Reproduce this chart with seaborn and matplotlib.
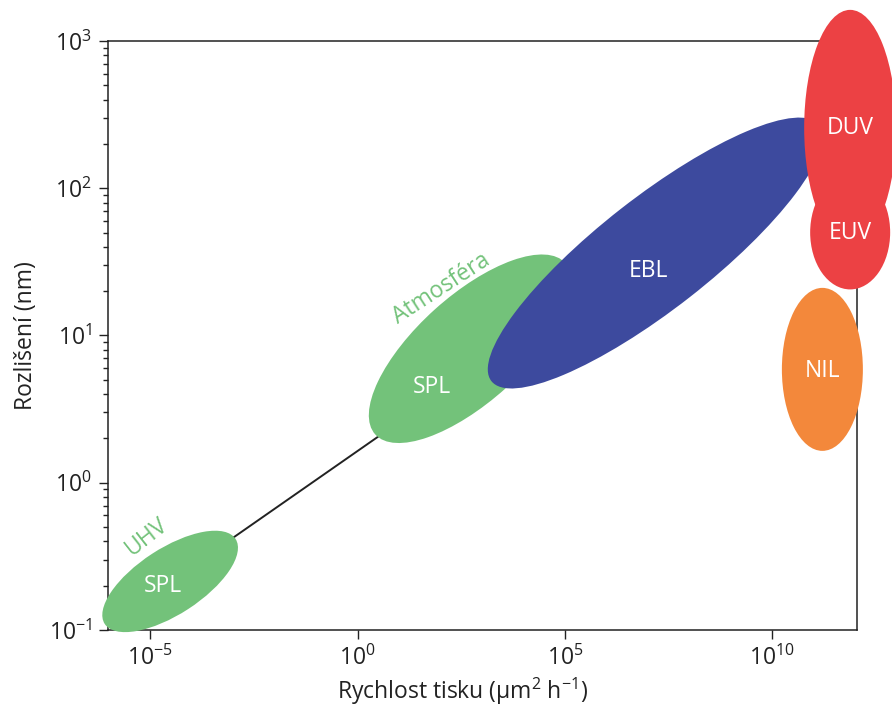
import numpy as np
import pandas as pd
import matplotlib
matplotlib.use("Agg")
import matplotlib.pyplot as plt
import matplotlib.transforms as mtransforms
from matplotlib.patches import Ellipse
from matplotlib.ticker import LogLocator, NullLocator, FixedLocator
import seaborn as sns

# regions: method name, centre as log10 speed (um^2/h) and log10 resolution (nm)
methods = ["SPL", "SPL", "EBL", "DUV", "EUV", "NIL"]
speed_log = [-4.52, 2.72, 7.18, 11.88, 11.88, 11.21]
res_log = [-0.67, 0.91, 1.56, 2.41, 1.70, 0.77]

# environment tags of the two SPL regions
env_labels = ["UHV", "Atmosféra"]

# line joining the two SPL regions
link_speed_log = [-3.8, 1.5]
link_res_log = [-0.53, 0.51]

#---------- styling ----------
green = "#73c27a"
blue = "#3d4a9e"
red = "#ec4144"
orange = "#f3883b"
colors = [green, green, blue, red, red, orange]
# ellipse size in pixels (width, height) and tilt
ell_w = [156, 256, 416, 92, 80, 81]
ell_h = [66, 106, 112, 236, 114, 163]
ell_ang = [33, 42, 38, 0, 0, 0]
ell_z = [3, 3, 4, 5, 5, 5]
lab_off = [(-7, -5), (-38, -38), (-7, -18), (0, 0), (0, -1), (0, -2)]
env_off = [(-23, 45), (-29, 60)]
env_rot = [38, 33]

sns.set_theme(style="ticks")
plt.rcParams['font.family'] = ['Open Sans', 'DejaVu Sans']
plt.rcParams['mathtext.fontset'] = 'custom'
plt.rcParams['mathtext.rm'] = 'Open Sans'
plt.rcParams['mathtext.it'] = 'Open Sans:italic'
plt.rcParams['mathtext.bf'] = 'Open Sans:bold'

fig = plt.figure(figsize=(8.92, 7.09), dpi=100)
ax = fig.add_axes([0.121, 0.1114, 0.840, 0.8308])

link = pd.DataFrame({"speed": 10.0 ** np.array(link_speed_log),
                     "res": 10.0 ** np.array(link_res_log)})
sns.lineplot(data=link, x="speed", y="res", ax=ax, color="#222222", lw=1.4, zorder=2)

ax.set_xscale("log")
ax.set_yscale("log")
ax.set_xlim(10 ** -6.02, 10 ** 12.05)
ax.set_ylim(1e-1, 1e3)

for i in range(len(methods)):
    cx = 10 ** speed_log[i]
    cy = 10 ** res_log[i]
    tr = fig.dpi_scale_trans + mtransforms.ScaledTranslation(cx, cy, ax.transData)
    e = Ellipse((0, 0), ell_w[i] / 100, ell_h[i] / 100, angle=ell_ang[i],
                transform=tr, facecolor=colors[i], edgecolor="none",
                clip_on=False, zorder=ell_z[i])
    ax.add_patch(e)
    ax.annotate(methods[i], (cx, cy), xytext=lab_off[i], textcoords="offset pixels",
                ha="center", va="center", color="white", fontsize=16.5,
                zorder=10, annotation_clip=False)

for i in range(len(env_labels)):
    cx = 10 ** speed_log[i]
    cy = 10 ** res_log[i]
    ax.annotate(env_labels[i], (cx, cy), xytext=env_off[i], textcoords="offset pixels",
                ha="center", va="center", color=green, fontsize=16.5,
                rotation=env_rot[i], rotation_mode="anchor", zorder=10,
                annotation_clip=False)

ax.xaxis.set_major_locator(FixedLocator([1e-5, 1e0, 1e5, 1e10]))
ax.xaxis.set_major_formatter(matplotlib.ticker.LogFormatterSciNotation())
ax.xaxis.set_minor_locator(NullLocator())
ax.yaxis.set_major_locator(LogLocator(base=10, numticks=10))
ax.yaxis.set_minor_locator(LogLocator(base=10, subs=np.arange(2, 10), numticks=10))

ax.tick_params(axis="both", which="major", direction="out", length=6.5, width=1,
               color="#222222", labelsize=16.5, labelcolor="#222222", pad=5)
ax.tick_params(axis="y", which="minor", direction="out", length=3.5, width=1,
               color="#222222")
for s in ax.spines.values():
    s.set_visible(True)
    s.set_color("#222222")
    s.set_linewidth(1.1)

ax.set_xlabel(r"Rychlost tisku (μm$^2$ h$^{-1}$)", fontsize=16.5, color="#222222")
ax.xaxis.set_label_coords(0.473, -0.078)
ax.set_ylabel("Rozlišení (nm)", fontsize=16.5, color="#222222", labelpad=8)

fig.savefig("out.png", dpi=100)
